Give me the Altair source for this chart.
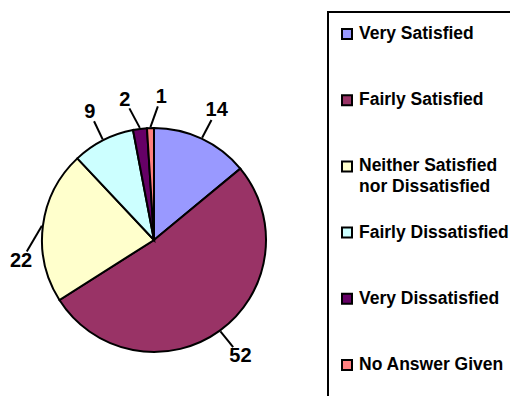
import altair as alt
import pandas as pd

categories = [
    "Very Satisfied",
    "Fairly Satisfied",
    "Neither Satisfied\nnor Dissatisfied",
    "Fairly Dissatisfied",
    "Very Dissatisfied",
    "No Answer Given",
]
values = [14, 52, 22, 9, 2, 1]
colors = ["#9999FF", "#993366", "#FFFFCC", "#CCFFFF", "#660066", "#FF8080"]

df = pd.DataFrame({"cat": categories, "value": values, "idx": list(range(len(values)))})

CX, CY, R = 146, 232, 112
GAP = 24
MINSEP = 0.26  # minimum angular separation of labels (rad)
FONT = "Liberation Sans"

base = (
    alt.Chart(df)
    .transform_window(cum="sum(value)", sort=[alt.SortField("idx")], frame=[None, 0])
    .transform_joinaggregate(total="sum(value)")
    .transform_calculate(mid="2*PI*(datum.cum - datum.value/2)/datum.total")
    .transform_window(prev_mid="lag(mid)", next_mid="lead(mid)", sort=[alt.SortField("idx")])
    .transform_calculate(
        gp="datum.prev_mid == null ? 9 : datum.mid - datum.prev_mid",
        gn="datum.next_mid == null ? 9 : datum.next_mid - datum.mid",
    )
    .transform_calculate(
        la=f"datum.mid + (datum.gp < {MINSEP} ? ({MINSEP} - datum.gp)/2 : 0)"
           f" - (datum.gn < {MINSEP} ? ({MINSEP} - datum.gn)/2 : 0)",
        lw="11.1*length(toString(datum.value))",
        ex=f"{CX} + {R + 1}*sin(datum.mid)",
        ey=f"{CY} - {R + 1}*cos(datum.mid)",
    )
    .transform_calculate(
        pxr=f"{CX} + ({R + GAP} + datum.lw/2)*sin(datum.la)",
        pyr=f"{CY} - ({R + GAP} + 7.5)*cos(datum.la)",
    )
    .transform_calculate(px="max(datum.pxr, datum.lw/2 + 2)")
    .transform_calculate(py="datum.pyr + (datum.px - datum.pxr)*3")
    .transform_calculate(
        dl="sqrt(pow(datum.px - datum.ex, 2) + pow(datum.py - datum.ey, 2))",
    )
    .transform_calculate(
        ux="(datum.px - datum.ex)/datum.dl",
        uy="(datum.py - datum.ey)/datum.dl",
    )
    .transform_calculate(
        dd="1/sqrt(pow(datum.ux/(datum.lw/2 + 3), 2) + pow(datum.uy/10.5, 2))",
    )
    .transform_calculate(
        x2="datum.px - datum.ux*datum.dd",
        y2="datum.py - datum.uy*datum.dd",
        ly="26 + datum.idx*66.2",
    )
)

color = alt.Color("cat:N", scale=alt.Scale(domain=categories, range=colors), legend=None)

pie = base.mark_arc(radius=R, stroke="black", strokeWidth=2).encode(
    theta=alt.Theta("value:Q", stack=True),
    order=alt.Order("idx:Q"),
    color=color,
    x=alt.value(CX),
    y=alt.value(CY),
)

lines = base.mark_rule(color="black", strokeWidth=2).encode(
    x=alt.X("ex:Q", scale=None, axis=None),
    y=alt.Y("ey:Q", scale=None, axis=None),
    x2="x2:Q",
    y2="y2:Q",
)

labels = base.mark_text(
    font=FONT, fontWeight="bold", fontSize=20, align="center", baseline="middle", color="black"
).encode(
    x=alt.X("px:Q", scale=None, axis=None),
    y=alt.Y("py:Q", scale=None, axis=None),
    text=alt.Text("value:Q"),
)

box = base.mark_rect(fill="white", stroke="black", strokeWidth=2).encode(
    x=alt.value(320), x2=alt.value(560), y=alt.value(4), y2=alt.value(460)
).transform_filter("datum.idx == 0")

leg_sq = base.mark_square(size=100, stroke="black", strokeWidth=2, opacity=1, filled=True).encode(
    x=alt.value(339),
    y=alt.Y("ly:Q", scale=None, axis=None),
    color=color,
)

leg_txt = base.mark_text(
    font=FONT, fontWeight="bold", fontSize=17.5, align="left", baseline="middle",
    lineBreak="\n", lineHeight=21, color="black",
).encode(
    x=alt.value(351),
    y=alt.Y("ly:Q", scale=None, axis=None),
    text="cat:N",
)

chart = (
    alt.layer(box, pie, lines, labels, leg_sq, leg_txt)
    .properties(width=502, height=388, padding=0, autosize=alt.AutoSizeParams(type="none"), background="white")
    .configure_view(stroke=None)
)

chart.save("out.html", embed_options={"renderer": "svg", "actions": False})
